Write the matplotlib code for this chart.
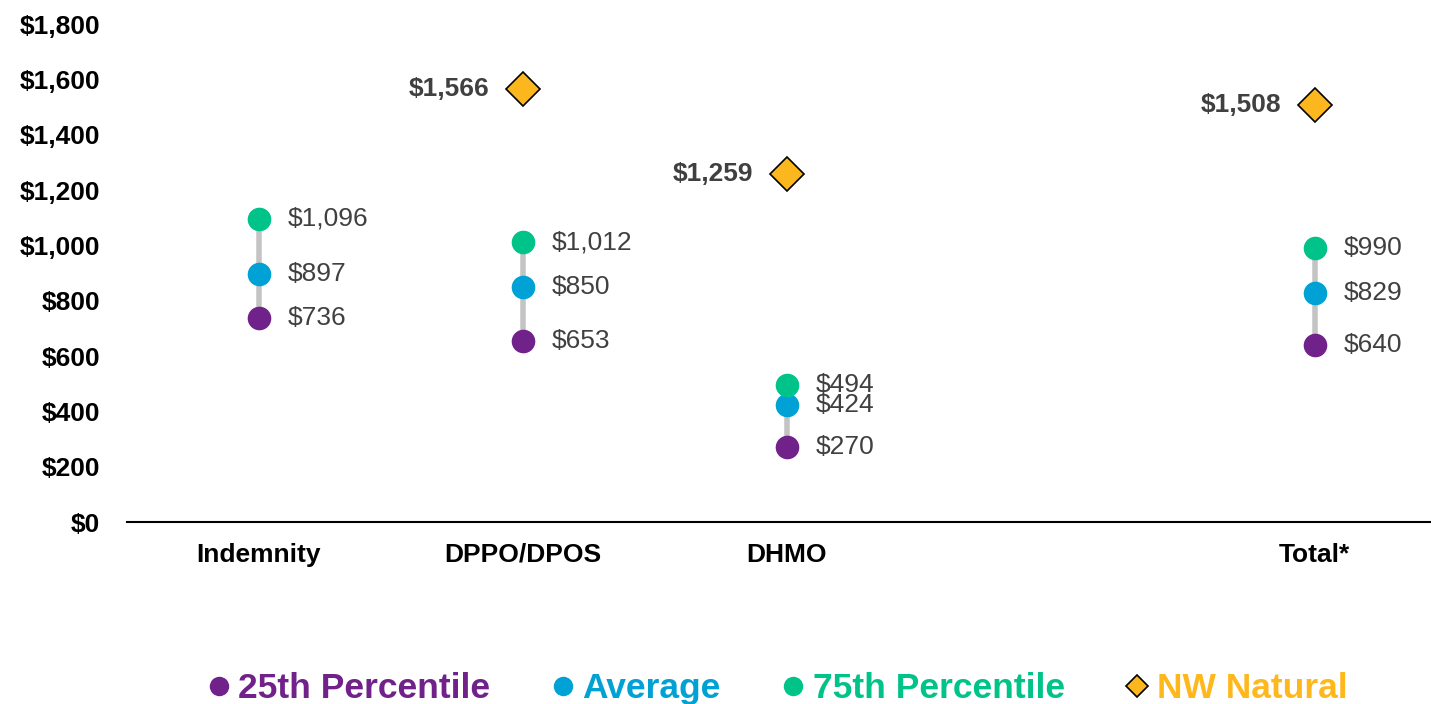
import matplotlib.pyplot as plt
import numpy as np
from matplotlib.lines import Line2D

plt.rcParams['font.family'] = ['Liberation Sans', 'DejaVu Sans']

# data
categories = ["Indemnity", "DPPO/DPOS", "DHMO", "", "Total*"]
p25 = [736, 653, 270, None, 640]
avg = [897, 850, 424, None, 829]
p75 = [1096, 1012, 494, None, 990]
nw_natural = [None, 1566, 1259, None, 1508]
y_ticks = [0, 200, 400, 600, 800, 1000, 1200, 1400, 1600, 1800]

c_p25 = "#70228A"
c_avg = "#00A1D4"
c_p75 = "#00C389"
c_nw = "#FDB71E"
c_lab = "#404040"

fig = plt.figure(figsize=(14.31, 7.04), dpi=100)
ax = fig.add_axes([127 / 1431, 1 - 522 / 704, 1 - 127 / 1431, (522 - 24) / 704])

x = np.arange(len(categories))
for i in x:
    if p25[i] is None:
        continue
    ax.plot([i, i], [p25[i], p75[i]], color="#C4C4C4", lw=4, zorder=1, solid_capstyle="butt")
    for vals, col in [(p25, c_p25), (avg, c_avg), (p75, c_p75)]:
        ax.plot(i, vals[i], "o", ms=17, color=col, mec="none", zorder=3)
        ax.annotate(f"${vals[i]:,}", (i, vals[i]), xytext=(21, 0), textcoords="offset points",
                    va="center", ha="left", fontsize=19, color=c_lab)
for i in x:
    if nw_natural[i] is None:
        continue
    ax.plot(i, nw_natural[i], "D", ms=17, color=c_nw, mec="black", mew=1.2, zorder=3)
    ax.annotate(f"${nw_natural[i]:,}", (i, nw_natural[i]), xytext=(-24, 0), textcoords="offset points",
                va="center", ha="right", fontsize=19, color=c_lab, fontweight="bold")

ax.set_xlim(-0.5, 4.44)
ax.set_ylim(0, 1800)
ax.set_yticks(y_ticks)
ax.set_yticklabels([f"${v:,}" for v in y_ticks], fontsize=19, fontweight="bold")
ax.set_xticks(x)
ax.set_xticklabels(categories, fontsize=19, fontweight="bold")
ax.tick_params(axis="y", length=0, pad=19.5)
ax.tick_params(axis="x", length=0, pad=15)
for s in ["top", "right", "left"]:
    ax.spines[s].set_visible(False)
ax.spines["bottom"].set_linewidth(1.5)

handles = [
    Line2D([], [], ls="none", marker="o", ms=14, color=c_p25, mec="none"),
    Line2D([], [], ls="none", marker="o", ms=14, color=c_avg, mec="none"),
    Line2D([], [], ls="none", marker="o", ms=14, color=c_p75, mec="none"),
    Line2D([], [], ls="none", marker="D", ms=11, color=c_nw, mec="black", mew=1.2),
]
labels = ["25th Percentile", "Average", "75th Percentile", "NW Natural"]
leg = fig.legend(handles, labels, loc="center", bbox_to_anchor=(0.541, 0.022), ncol=4, frameon=False,
                 prop={"size": 25.5, "weight": "bold"}, handletextpad=0.05, columnspacing=1.55,
                 handlelength=1.0, labelcolor=[c_p25, c_avg, c_p75, "#FFB81C"])

fig.savefig("out.png", dpi=100)
